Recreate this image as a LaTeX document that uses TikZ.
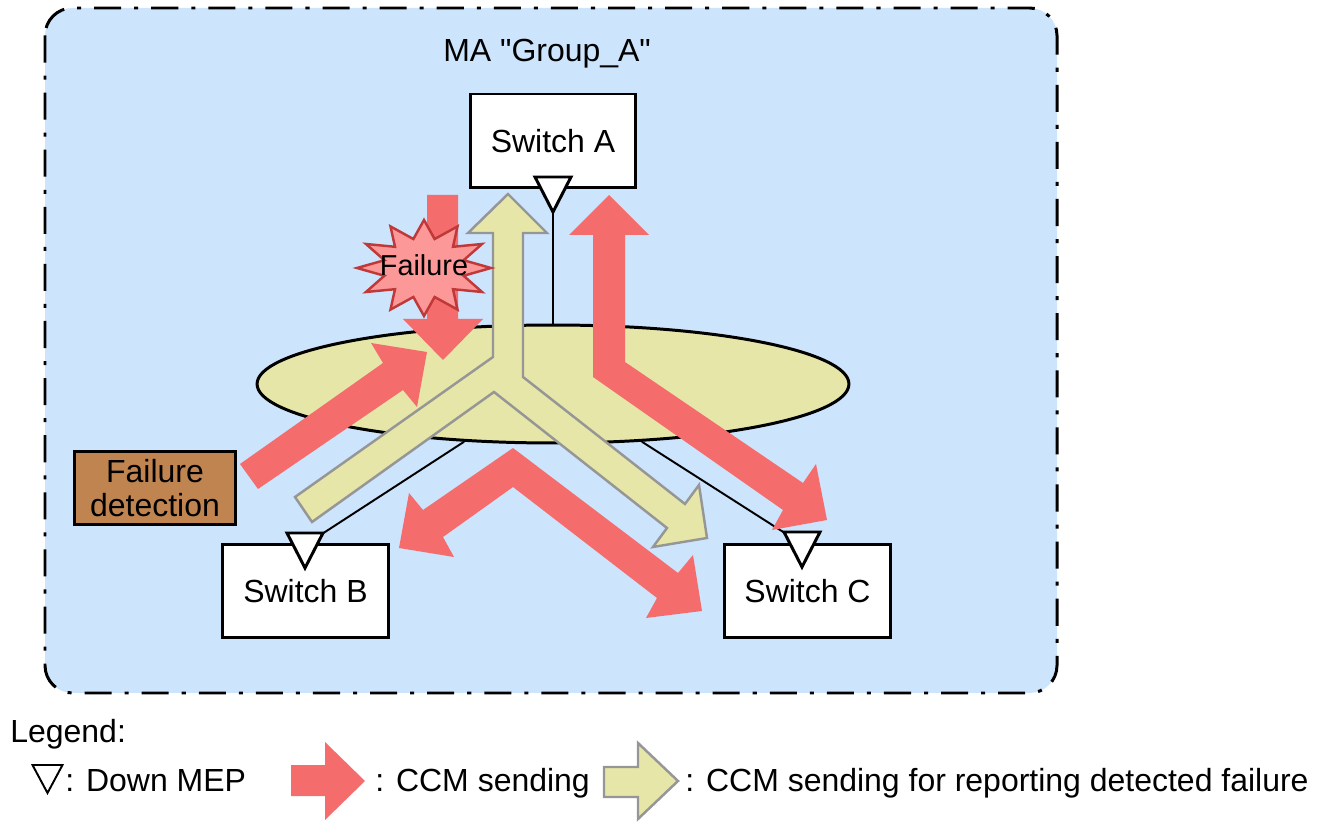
\documentclass[tikz,border=0pt]{standalone}
\usepackage{fontspec}
\setmainfont{Liberation Sans}[Ligatures=TeXOff]
\usetikzlibrary{shapes.geometric,calc}

\definecolor{areablue}{RGB}{204,228,252}
\definecolor{lanyellow}{RGB}{230,230,168}
\definecolor{ccmred}{RGB}{245,108,108}
\definecolor{rptgray}{RGB}{150,150,150}
\definecolor{starpink}{RGB}{252,152,152}
\definecolor{stardark}{RGB}{192,56,56}
\definecolor{detbrown}{RGB}{192,132,80}

\tikzset{
  maarea/.style={fill=areablue, line width=1.7pt, dash pattern=on 15.4pt off 7.4pt on 2.3pt off 7.4pt, rounded corners=0.55cm},
  lan/.style={ellipse, draw, fill=lanyellow, line width=1.7pt, minimum width=11.84cm, minimum height=2.36cm, inner sep=0pt},
  switch/.style={draw, fill=white, line width=1.7pt, minimum width=3.32cm, minimum height=1.88cm, inner sep=0pt},
  detect/.style={draw, fill=detbrown, line width=1.7pt, minimum width=3.24cm, minimum height=1.46cm, inner sep=0pt, align=center, font=\fontsize{18.2}{19}\selectfont},
  mep/.style={draw, fill=white, line width=1.7pt},
  link/.style={line width=1.1pt},
  ccm/.style={fill=ccmred},
  report/.style={fill=lanyellow, draw=rptgray, line width=1.4pt},
  failstar/.style={fill=starpink, draw=stardark, line width=1.4pt},
  txt/.style={inner sep=0pt, anchor=base west}
}

% down MEP triangle round a named coordinate
\newcommand{\mep}[1]{\draw[mep] ($(#1)+(-18,-12)$) -- ($(#1)+(18,-12)$) -- ($(#1)+(0,23)$) -- cycle;}

\begin{document}
\begin{tikzpicture}[x=0.02cm, y=-0.02cm, font=\fontsize{18.2}{21}\selectfont]
    \useasboundingbox (0,0) rectangle (1340,827);
    \draw[maarea] (45,8) rectangle (1057,693);
    \node[txt] (title) at (443,62) {MA "Group\_A"};

    % network and switches
    \node[lan] (lan) at (553,384) {};
    \node[switch] (swA) at (553,141) {Switch A};
    \node[switch] (swB) at (305.5,591) {Switch B};
    \node[switch] (swC) at (807.5,591) {Switch C};
    \coordinate (mepA) at (553,189);
    \coordinate (mepB) at (305,545);
    \coordinate (mepC) at (802,544);
    \draw[link] (lan.north) -- (mepA);
    \draw[link] (lan.213) -- (mepB);
    \draw[link] (lan.327) -- (mepC);
    \mep{mepA} \mep{mepB} \mep{mepC}

    % CCM for reporting the failure
    \draw[report] (508,194) -- (547,233) -- (523,233) -- (523,377) -- (685,504) -- (699,485) -- (707,538) -- (653,547) -- (667,528) -- (494,392) -- (312,522) -- (295,497) -- (493,357) -- (493,233) -- (468,233) -- cycle;

    % CCM sending
    \fill[ccm] (240,464) -- (383,363) -- (371,343) -- (427,352) -- (417,407) -- (403,390) -- (258,489) -- cycle;
    \fill[ccm] (427,195) -- (458,195) -- (458,319) -- (483,319) -- (443,360) -- (403,319) -- (427,319) -- cycle;
    \fill[ccm] (609,195) -- (649,235) -- (625,235) -- (625,362) -- (803,483) -- (816,464) -- (827,520) -- (772,530) -- (783,510) -- (593,377) -- (593,235) -- (569,235) -- cycle;
    \fill[ccm] (513,448) -- (678,573) -- (693,555) -- (702,611) -- (646,618) -- (657,598) -- (513,487) -- (443,537) -- (454,557) -- (399,548) -- (409,493) -- (423,510) -- cycle;

    \coordinate (burst) at (424,268);
    \draw[failstar] ($(burst)+(-15:41 and 30)$) \foreach \a in {0,30,...,330} { -- ($(burst)+(\a:67 and 48)$) -- ($(burst)+(\a+15:41 and 30)$) } -- cycle;
    \node[inner sep=0pt, anchor=base, font=\fontsize{16.4}{18}\selectfont] (fail) at (424,276) {Failure};

    \node[detect] (det) at (155,488) {Failure\\detection};

    % legend
    \node[txt] (legend) at (10,743) {Legend:};
    \coordinate (legmep) at (47.5,774);
    \draw[mep, line width=1.1pt] ($(legmep)+(-15,-9)$) -- ($(legmep)+(15,-9)$) -- ($(legmep)+(0,19)$) -- cycle;
    \node[txt] (legmeptxt) at (65,791) {: Down MEP};
    \fill[ccm] (291,765) -- (325,765) -- (325,742) -- (365,781) -- (325,820) -- (325,796) -- (291,796) -- cycle;
    \node[txt] (legccm) at (375,791) {: CCM sending};
    \draw[report] (604,767) -- (638,767) -- (638,743) -- (678,781) -- (638,819) -- (638,797) -- (604,797) -- cycle;
    \node[txt] (legrpt) at (685,791) {: CCM sending for reporting detected failure};
\end{tikzpicture}
\end{document}
